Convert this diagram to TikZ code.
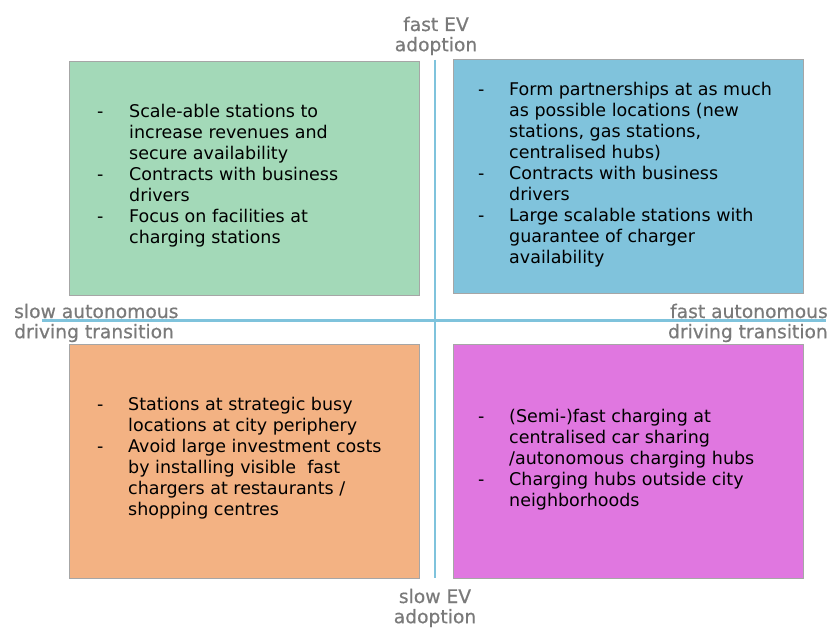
\documentclass[tikz,border=0pt]{standalone}
\usepackage{fontspec}
\setmainfont{DejaVu Sans}
\newfontfamily\labelfont[FakeBold=0.6]{DejaVu Sans}
\usetikzlibrary{positioning}
\definecolor{quadgreen}{HTML}{A3D9B8}
\definecolor{quadblue}{HTML}{80C3DC}
\definecolor{quadorange}{HTML}{F3B283}
\definecolor{quadpink}{HTML}{E077E0}
\definecolor{axisblue}{HTML}{7FC3DC}
\definecolor{axisgray}{HTML}{7A7A7A}

\begin{document}
\begin{tikzpicture}[x=1pt, y=-1pt,%
  quad/.style={rectangle, draw=black!35, line width=0.8pt, minimum width=350pt, minimum height=234pt, anchor=north west, inner sep=0pt},%
  items/.style={anchor=base west, inner sep=0pt, font=\fontsize{17.5}{21}\selectfont},%
  axislabel/.style={inner sep=0pt, text=axisgray, font=\labelfont\fontsize{18.7}{20}\selectfont},%
  axisline/.style={draw=axisblue, line width=2.6pt},%
  axisshadow/.style={draw=black!35, line width=2.6pt}%
]
  \useasboundingbox (0,0) rectangle (830,631);
  % quadrants
  \node[quad, fill=quadgreen] (q1) at (69,61) {};
  \node[quad, fill=quadblue] (q2) at (453,59) {};
  \node[quad, fill=quadorange] (q3) at (69,344) {};
  \node[quad, fill=quadpink] (q4) at (453,344) {};
  % axes
  \coordinate (vtop) at (435,60);
  \coordinate (vbot) at (435,578);
  \coordinate (hleft) at (42,320.5);
  \coordinate (hright) at (826,320.5);
  \draw[axisshadow, xshift=1.6pt] (vtop) -- (vbot);
  \draw[axisshadow, yshift=-1.6pt] (hleft) -- (hright);
  \draw[axisline] (vtop) -- (vbot);
  \draw[axisline] (hleft) -- (hright);
  % axis labels
  \node[axislabel, anchor=base] (evfast) at (436,31) {\begin{tabular}[t]{@{}c@{}}fast EV\\adoption\end{tabular}};
  \node[axislabel, anchor=base] (evslow) at (435,603) {\begin{tabular}[t]{@{}c@{}}slow EV\\adoption\end{tabular}};
  \node[axislabel, anchor=base west] (adslow) at (14,318) {\begin{tabular}[t]{@{}l@{}}slow autonomous\\driving transition\end{tabular}};
  \node[axislabel, anchor=base east] (adfast) at (828,318) {\begin{tabular}[t]{@{}r@{}}fast autonomous\\driving transition\end{tabular}};
  % texts
  \node[items] (t1) at (97,118) {\begin{tabular}[t]{@{}p{32pt}@{}l@{}}
    - & Scale-able stations to\\
      & increase revenues and\\
      & secure availability\\
    - & Contracts with business\\
      & drivers\\
    - & Focus on facilities at\\
      & charging stations
  \end{tabular}};
  \node[items] (t2) at (478,95.5) {\begin{tabular}[t]{@{}p{31pt}@{}l@{}}
    - & Form partnerships at as much\\
      & as possible locations (new\\
      & stations, gas stations,\\
      & centralised hubs)\\
    - & Contracts with business\\
      & drivers\\
    - & Large scalable stations with\\
      & guarantee of charger\\
      & availability
  \end{tabular}};
  \node[items] (t3) at (97,410) {\begin{tabular}[t]{@{}p{31pt}@{}l@{}}
    - & Stations at strategic busy\\
      & locations at city periphery\\
    - & Avoid large investment costs\\
      & by installing visible\ \ fast\\
      & chargers at restaurants /\\
      & shopping centres
  \end{tabular}};
  \node[items] (t4) at (478,422.5) {\begin{tabular}[t]{@{}p{31pt}@{}l@{}}
    - & (Semi-)fast charging at\\
      & centralised car sharing\\
      & /autonomous charging hubs\\
    - & Charging hubs outside city\\
      & neighborhoods
  \end{tabular}};
\end{tikzpicture}
\end{document}
